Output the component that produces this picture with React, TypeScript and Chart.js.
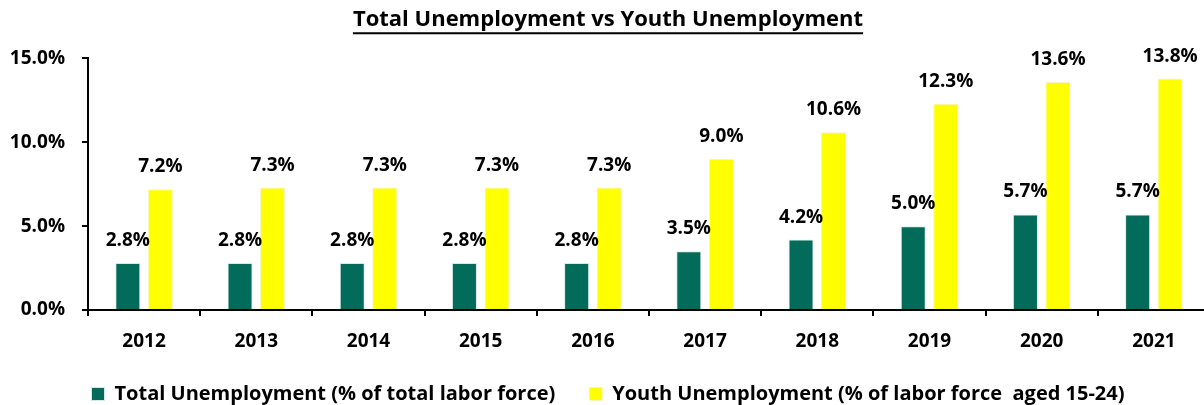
import React, { useEffect, useRef } from 'react';
import { Chart, registerables } from 'chart.js';

Chart.register(...registerables);

const years = ['2012', '2013', '2014', '2015', '2016', '2017', '2018', '2019', '2020', '2021'];
const totalUnemployment = [2.8, 2.8, 2.8, 2.8, 2.8, 3.5, 4.2, 5.0, 5.7, 5.7];
const youthUnemployment = [7.2, 7.3, 7.3, 7.3, 7.3, 9.0, 10.6, 12.3, 13.6, 13.8];
const yTicks = [0, 5, 10, 15];

const titleText = 'Total Unemployment vs Youth Unemployment';
const totalLabel = 'Total Unemployment (% of total labor force)';
const youthLabel = 'Youth Unemployment (% of labor force  aged 15-24)';

const FONT = '"Open Sans", Roboto, sans-serif';
const GREEN = '#026B59';
const YELLOW = '#FFFF00';
const TITLE_SIZE = 22;
const TITLE_PAD_TOP = 7;

const valueLabels = {
  id: 'valueLabels',
  afterDatasetsDraw(chart: any) {
    const ctx = chart.ctx;
    ctx.save();
    ctx.font = `bold 19px ${FONT}`;
    ctx.fillStyle = '#000';
    ctx.textAlign = 'center';
    ctx.textBaseline = 'alphabetic';
    chart.data.datasets.forEach((ds: any, di: number) => {
      const meta = chart.getDatasetMeta(di);
      meta.data.forEach((bar: any, i: number) => {
        const v = ds.data[i] as number;
        ctx.fillText(`${v.toFixed(1)}%`, bar.x, bar.y - 17);
      });
    });
    ctx.restore();
  },
};

const titleUnderline = {
  id: 'titleUnderline',
  afterDraw(chart: any) {
    const tb = chart.titleBlock;
    if (!tb) return;
    const ctx = chart.ctx;
    ctx.save();
    ctx.font = `bold ${TITLE_SIZE}px ${FONT}`;
    const w = ctx.measureText(titleText).width;
    const cx = (tb.left + tb.right) / 2;
    const cy = tb.top + TITLE_PAD_TOP + (TITLE_SIZE * 1.2) / 2 + TITLE_SIZE * 0.5 + 2;
    ctx.strokeStyle = '#000';
    ctx.lineWidth = 2;
    ctx.beginPath();
    ctx.moveTo(cx - w / 2, cy);
    ctx.lineTo(cx + w / 2, cy);
    ctx.stroke();
    ctx.restore();
  },
};

export default function App() {
  const ref = useRef<HTMLCanvasElement>(null);
  useEffect(() => {
    document.body.style.margin = '0';
    const canvas = ref.current!;
    const chart = new Chart(canvas, {
      type: 'bar',
      data: {
        labels: years,
        datasets: [
          {
            label: totalLabel,
            data: totalUnemployment,
            backgroundColor: GREEN,
            borderColor: '#d5ebe4',
            borderWidth: 1,
            categoryPercentage: 0.58,
            barPercentage: 0.77,
          },
          {
            label: youthLabel,
            data: youthUnemployment,
            backgroundColor: YELLOW,
            borderColor: '#f5f5c0',
            borderWidth: 1,
            categoryPercentage: 0.58,
            barPercentage: 0.77,
          },
        ],
      },
      options: {
        responsive: false,
        animation: false,
        devicePixelRatio: 1,
        layout: { padding: { left: 6, right: 0, top: 0, bottom: 0 } },
        plugins: {
          title: {
            display: true,
            text: titleText,
            color: '#000',
            font: { family: FONT, size: TITLE_SIZE, weight: 'bold', lineHeight: 1.2 },
            padding: { top: TITLE_PAD_TOP, bottom: 25 },
            align: 'center',
          },
          legend: {
            display: true,
            position: 'bottom',
            labels: {
              color: '#000',
              font: { family: FONT, size: 20, weight: 'bold', lineHeight: 1.0 },
              boxWidth: 13,
              boxHeight: 13,
              padding: 34,
              useBorderRadius: false,
            },
          },
          tooltip: { enabled: false },
        },
        scales: {
          x: {
            afterFit: (scale: any) => {
              scale.height = 40;
            },
            grid: {
              display: true,
              drawOnChartArea: false,
              drawTicks: true,
              tickLength: 6,
              color: '#000',
              lineWidth: 2,
              offset: true,
            },
            border: { display: true, color: '#000', width: 2 },
            ticks: {
              color: '#000',
              font: { family: FONT, size: 19, weight: 'bold', lineHeight: 1.0 },
              padding: 16,
            },
          },
          y: {
            min: 0,
            max: 15,
            afterFit: (scale: any) => {
              scale.width = 82;
            },
            afterBuildTicks: (axis: any) => {
              axis.ticks = yTicks.map((v) => ({ value: v }));
            },
            grid: {
              display: true,
              drawOnChartArea: false,
              drawTicks: true,
              tickLength: 6,
              color: '#000',
              lineWidth: 2,
            },
            border: { display: true, color: '#000', width: 2 },
            ticks: {
              color: '#000',
              font: { family: FONT, size: 19, weight: 'bold' },
              padding: 17,
              callback: (v: any) => `${Number(v).toFixed(1)}%`,
            },
          },
        },
      },
      plugins: [valueLabels, titleUnderline],
    });
    return () => chart.destroy();
  }, []);

  return (
    <div style={{ width: 1204, height: 405, overflow: 'hidden', background: '#fff' }}>
      <canvas ref={ref} width={1210} height={414} style={{ display: 'block' }} />
    </div>
  );
}
